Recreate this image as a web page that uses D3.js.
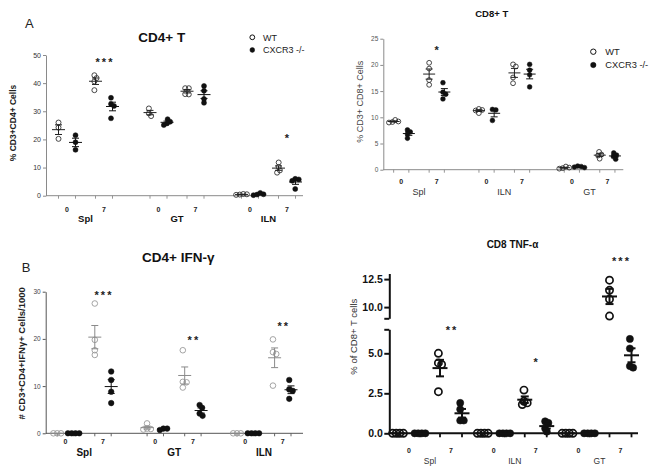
<!DOCTYPE html>
<html><head><meta charset="utf-8">
<script src="https://cdn.jsdelivr.net/npm/d3@7"></script>
<style>
body{margin:0;background:#fff}
svg{display:block}
</style></head>
<body><svg id="chart" width="654" height="476"></svg>
<script>
// ---------------- data ----------------
const genotypes = ["WT", "CXCR3 -/-"];
const days = ["0", "7"];

// group order in each series: [tissue0 day0, tissue0 day7, tissue1 day0, tissue1 day7, tissue2 day0, tissue2 day7]
const tissuesCD4 = ["Spl", "GT", "ILN"];
const cd4T_WT = [[26, 24.2, 20.2], [42.8, 41.8, 40.6, 37.5], [31, 29.3, 28.3], [38.2, 38.2, 36, 36.1], [0.5, 0.3, 0.6, 0.4], [11.8, 10.2, 9.0, 8.2]];
const cd4T_KO = [[21.5, 19, 16.3], [34.8, 32.6, 31.9, 27.5], [27.2, 26.3, 25.7, 25.1], [39, 37.3, 34.4, 33], [1.0, 0.5, 0.2, 0.4], [5.8, 6.0, 5.3, 2.4]];
const cd4T_ticks = [0, 10, 20, 30, 40, 50];
const cd4T_stars = [["Spl", "7", "***", 48.3], ["ILN", "7", "*", 21.3]];

const tissuesCD8 = ["Spl", "ILN", "GT"];
const cd8T_WT = [[9.5, 9.1, 9.0, 9.2], [20.4, 19.3, 17.1, 16.2], [11.6, 11.4, 11.3, 10.8], [20.1, 19.7, 17.6, 16.5], [0.6, 0.4, 0.2, 0.3], [3.4, 2.9, 2.7, 2.1]];
const cd8T_KO = [[7.6, 7.2, 6.0, 6.8], [16.6, 14.8, 14.4, 13.5], [11.5, 11.4, 9.4], [20.1, 19, 18.1, 15.8], [0.7, 0.5, 0.4, 0.6], [3.2, 2.8, 2.5, 2.0]];
const cd8T_ticks = [0, 5, 10, 15, 20, 25];
const cd8T_stars = [["Spl", "7", "*", 23.3]];

const tissuesIFN = ["Spl", "GT", "ILN"];
const ifn_WT = [[0, 0, 0], [27.5, 19.8, 17.6, 16.6], [2.1, 1.0, 0.8, 0.9], [17.6, 10.9, 10.8, 9.7], [0, 0, 0], [19.9, 17.2, 16.8, 10.1]];
const ifn_KO = [[0, 0, 0, 0], [13.1, 11.3, 8.8, 6.4], [1.0, 0.7, 1.0], [6.0, 5.4, 4.2, 3.7], [0, 0, 0, 0], [11.3, 9.3, 9.0, 7.3]];
const ifn_ticks = [0, 10, 20, 30];
const ifn_stars = [["Spl", "7", "***", 29.8], ["GT", "7", "**", 20.3], ["ILN", "7", "**", 23.3]];

const tissuesTNF = ["Spl", "ILN", "GT"];
const tnf_WT = [[0, 0, 0, 0], [5.0, 4.4, 4.3, 2.6], [0, 0, 0, 0], [2.7, 2.0, 1.9, 1.8], [0, 0, 0, 0], [12.4, 11.5, 10.7, 9.2]];
const tnf_KO = [[0, 0, 0, 0], [1.9, 1.5, 0.8, 0.8], [0, 0, 0, 0], [0.75, 0.65, 0.3, 0.1], [0, 0, 0, 0], [5.9, 5.3, 4.2, 4.1]];
const tnf_ticksLow = [0, 2.5, 5, 6.5];
const tnf_ticksHigh = [9, 10, 12.5];
const tnf_stars = [["Spl", "7", "**", 6.6], ["ILN", "7", "*", 4.6], ["GT", "7", "***", 14.3]];

// ---------------- drawing ----------------
const FONT = '"Liberation Sans", Arial, Helvetica, sans-serif';
const svg = d3.select("#chart").attr("font-family", FONT);

function swarm(vals, yFn, dist) {
  const pts = vals.map(v => ({v, y: yFn(v), x: 0}));
  const order = pts.slice().sort((a, b) => a.y - b.y);
  const placed = [];
  order.forEach(p => {
    const iv = placed.filter(q => Math.abs(q.y - p.y) < dist).map(q => {
      const w = Math.sqrt(dist * dist - (q.y - p.y) ** 2);
      return [q.x - w, q.x + w];
    });
    const c = [0];
    iv.forEach(([a, b]) => c.push(a, b));
    c.sort((a, b) => Math.abs(a) - Math.abs(b) || b - a);
    p.x = c.find(x => iv.every(([a, b]) => x <= a + 1e-6 || x >= b - 1e-6));
    placed.push(p);
  });
  const sh = (d3.min(pts, d => d.x) + d3.max(pts, d => d.x)) / 2;
  pts.forEach(p => p.x -= sh);
  return pts;
}

function drawPanel(p) {
  const g = svg.append("g");
  const xT = d3.scalePoint().domain(p.tissues).range(p.tissueRange);
  const xD = d3.scalePoint().domain(days).range([-p.dayHalf, p.dayHalf]);
  const xG = d3.scalePoint().domain(genotypes).range([-p.genoHalf, p.genoHalf]);
  const groups = [];
  p.tissues.forEach((t, ti) => days.forEach((d, di) => genotypes.forEach((gt, gi) => {
    const vals = (gi === 0 ? p.wt : p.ko)[ti * 2 + di];
    groups.push({t, d, gi, vals, cx: xT(t) + xD(d) + xG(gt)});
  })));

  // y axes
  p.yAxes.forEach(ax => {
    const a = g.append("g").attr("transform", `translate(${p.x0},0)`)
      .call(d3.axisLeft(ax.scale).tickValues(ax.ticks).tickSize(p.yTickLen).tickSizeOuter(0)
        .tickPadding(p.yTickPad).tickFormat(v => ax.labels.includes(v) ? p.yFmt(v) : ""));
    a.attr("font-family", FONT).attr("font-size", p.yTickFont);
    a.select(".domain").attr("stroke", p.axisColor).attr("stroke-width", p.axisW);
    a.selectAll(".tick line").attr("stroke", p.axisColor).attr("stroke-width", p.axisW);
    a.selectAll(".tick text").attr("fill", p.yTickColor).attr("font-weight", p.yTickWeight);
  });

  // x axis
  const y0 = p.yAxes[0].scale(0);
  g.append("line").attr("x1", p.x0).attr("x2", p.x1).attr("y1", y0).attr("y2", y0)
    .attr("stroke", p.axisColor).attr("stroke-width", p.axisW);
  g.selectAll(".xt").data(groups).join("line")
    .attr("x1", d => d.cx).attr("x2", d => d.cx).attr("y1", y0).attr("y2", y0 + p.xTickLen)
    .attr("stroke", p.axisColor).attr("stroke-width", p.axisW * 0.9);
  const dayLabs = p.tissues.flatMap(t => days.map(d => ({t, d})));
  g.selectAll(".dl").data(dayLabs).join("text")
    .attr("x", d => xT(d.t) + xD(d.d)).attr("y", p.dayLabelY)
    .attr("text-anchor", "middle").attr("font-size", 7).attr("font-weight", "bold")
    .attr("fill", p.dayColor).text(d => d.d);
  g.selectAll(".tl").data(p.tissues).join("text")
    .attr("x", d => xT(d)).attr("y", p.tissueLabelY)
    .attr("text-anchor", "middle").attr("font-size", p.tissueFont).attr("font-weight", p.tissueWeight)
    .attr("fill", p.tissueColor).text(d => d);

  // points
  groups.forEach(gr => {
    const pts = swarm(gr.vals, p.yFn, p.dodge);
    g.selectAll(null).data(pts).join("circle")
      .attr("cx", d => gr.cx + d.x).attr("cy", d => d.y).attr("r", p.r)
      .attr("fill", gr.gi === 0 ? "#fff" : p.koColor)
      .attr("fill-opacity", gr.gi === 0 ? 0 : 1)
      .attr("stroke", gr.gi === 0 ? p.wtColor : p.koColor)
      .attr("stroke-width", gr.gi === 0 ? p.wtStroke : 0.5);
  });
  // mean +- SEM
  groups.forEach(gr => {
    const m = d3.mean(gr.vals), s = d3.deviation(gr.vals) / Math.sqrt(gr.vals.length);
    const col = gr.gi === 0 ? p.wtMeanColor : p.koColor;
    const yS = p.yFn;
    const lg = g.append("g").attr("stroke", col).attr("stroke-width", p.meanW);
    lg.append("line").attr("x1", gr.cx - p.meanHalf).attr("x2", gr.cx + p.meanHalf)
      .attr("y1", yS(m)).attr("y2", yS(m));
    if (s > 0) {
      lg.append("line").attr("x1", gr.cx).attr("x2", gr.cx).attr("y1", yS(m - s)).attr("y2", yS(m + s));
      [m - s, m + s].forEach(v => lg.append("line").attr("x1", gr.cx - p.capHalf).attr("x2", gr.cx + p.capHalf)
        .attr("y1", yS(v)).attr("y2", yS(v)));
    }
  });
  // significance stars
  g.selectAll(".st").data(p.stars).join("text")
    .attr("x", d => xT(d[0]) + xD(d[1]) + p.starSpacing / 2).attr("y", d => p.yFn(d[3]) + p.starSize * 0.57)
    .attr("text-anchor", "middle").attr("font-size", p.starSize).attr("font-weight", "bold")
    .attr("letter-spacing", p.starSpacing).attr("fill", "#222").text(d => d[2]);

  // title
  g.append("text").attr("x", p.title[1]).attr("y", p.title[2]).attr("text-anchor", "middle")
    .attr("font-size", p.title[3]).attr("font-weight", "bold").attr("fill", "#111").text(p.title[0]);
  // y label
  g.append("text").attr("transform", `translate(${p.ylab[1]},${p.ylab[2]}) rotate(-90)`)
    .attr("text-anchor", "middle").attr("dy", "0.35em").attr("font-size", p.ylab[3])
    .attr("font-weight", p.ylab[4]).attr("fill", p.ylab[5]).text(p.ylab[0]);
  return g;
}

function legend(x, y, gap, tx, fs, r) {
  const lg = svg.append("g");
  genotypes.forEach((gt, i) => {
    lg.append("circle").attr("cx", x).attr("cy", y + i * gap).attr("r", r)
      .attr("fill", i === 0 ? "none" : "#111").attr("stroke", "#111").attr("stroke-width", i === 0 ? 1 : 0.5);
    lg.append("text").attr("x", tx).attr("y", y + i * gap + fs * 0.36).attr("font-size", fs)
      .attr("fill", "#222").text(gt);
  });
}

// Panel A: CD4+ T
const yA = d3.scaleLinear().domain([0, 50]).range([195.7, 55]);
drawPanel({
  tissues: tissuesCD4, wt: cd4T_WT, ko: cd4T_KO, tissueRange: [85.5, 268.5], dayHalf: 18.5, genoHalf: 8.5,
  x0: 46, x1: 303, yFn: yA, yAxes: [{scale: yA, ticks: cd4T_ticks, labels: cd4T_ticks}],
  yFmt: d3.format("d"), yTickLen: 3, yTickPad: 2, yTickFont: 7, yTickColor: "#333", yTickWeight: "normal",
  axisColor: "#8a8a8a", axisW: 1, xTickLen: 3, dayLabelY: 211.5, dayColor: "#222",
  tissueLabelY: 222, tissueFont: 9.5, tissueWeight: "bold", tissueColor: "#111",
  r: 2.5, dodge: 3.6, wtColor: "#333", wtStroke: 0.9, koColor: "#111", wtMeanColor: "#222",
  meanW: 1, meanHalf: 6.5, capHalf: 3.5,
  stars: cd4T_stars, starSize: 11, starSpacing: 2,
  title: ["CD4+ T", 161.7, 41.7, 13.5],
  ylab: ["% CD3+CD4+ Cells", 13.5, 123, 8.5, "bold", "#222"]
});
svg.append("text").attr("x", 25).attr("y", 28).attr("font-size", 13).attr("fill", "#222").text("A");
legend(252.3, 37.3, 12.7, 263, 9, 2.4);

// Panel: CD8+ T
const yC = d3.scaleLinear().domain([0, 25]).range([169.7, 38.7]);
drawPanel({
  tissues: tissuesCD8, wt: cd8T_WT, ko: cd8T_KO, tissueRange: [419, 589.6], dayHalf: 17.75, genoHalf: 7.6,
  x0: 383.3, x1: 623.3, yFn: yC, yAxes: [{scale: yC, ticks: cd8T_ticks, labels: cd8T_ticks}],
  yFmt: d3.format("d"), yTickLen: 3, yTickPad: 2, yTickFont: 6.5, yTickColor: "#555", yTickWeight: "normal",
  axisColor: "#8a8a8a", axisW: 1, xTickLen: 3, dayLabelY: 184.2, dayColor: "#222",
  tissueLabelY: 195, tissueFont: 9, tissueWeight: "normal", tissueColor: "#333",
  r: 2.4, dodge: 3.5, wtColor: "#333", wtStroke: 0.9, koColor: "#111", wtMeanColor: "#222",
  meanW: 1, meanHalf: 6, capHalf: 3.5,
  stars: cd8T_stars, starSize: 11, starSpacing: 0,
  title: ["CD8+ T", 491.7, 16.7, 9.5],
  ylab: ["% CD3+ CD8+ Cells", 360, 101.7, 9, "normal", "#444"]
});
legend(593.3, 51.7, 13.3, 605.3, 9.3, 2.7);

// Panel B: CD4+ IFN-γ
const yB = d3.scaleLinear().domain([0, 30]).range([433.3, 291.7]);
drawPanel({
  tissues: tissuesIFN, wt: ifn_WT, ko: ifn_KO, tissueRange: [84.2, 264], dayHalf: 18.8, genoHalf: 8.2,
  x0: 45.7, x1: 303, yFn: yB, yAxes: [{scale: yB, ticks: ifn_ticks, labels: ifn_ticks}],
  yFmt: d3.format("d"), yTickLen: 3, yTickPad: 2, yTickFont: 6.5, yTickColor: "#444", yTickWeight: "normal",
  axisColor: "#555", axisW: 1, xTickLen: 3, dayLabelY: 444, dayColor: "#222",
  tissueLabelY: 455.5, tissueFont: 10, tissueWeight: "bold", tissueColor: "#111",
  r: 2.8, dodge: 3.8, wtColor: "#9a9a9a", wtStroke: 0.9, koColor: "#111", wtMeanColor: "#8a8a8a",
  meanW: 1, meanHalf: 6.5, capHalf: 3.5,
  stars: ifn_stars, starSize: 11, starSpacing: 2,
  title: ["CD4+ IFN-γ", 178.3, 261.7, 13.5],
  ylab: ["# CD3+CD4+IFNγ+ Cells/1000", 21.7, 353.3, 9.5, "bold", "#222"]
});
svg.append("text").attr("x", 21.7).attr("y", 271.7).attr("font-size", 13).attr("fill", "#222").text("B");

// Panel: CD8 TNF-α (broken y axis)
const yLow = d3.scaleLinear().domain([0, 6.5]).range([433.3, 329.3]);
const yHigh = d3.scaleLinear().domain([9, 13]).range([318.3, 273.5]);
const yTNF = v => v > 7.5 ? yHigh(v) : yLow(v);
drawPanel({
  tissues: tissuesTNF, wt: tnf_WT, ko: tnf_KO, tissueRange: [430, 599.5], dayHalf: 21, genoHalf: 11,
  x0: 389.3, x1: 638, yFn: yTNF,
  yAxes: [{scale: yLow, ticks: tnf_ticksLow, labels: [0, 2.5, 5]},
          {scale: yHigh, ticks: tnf_ticksHigh, labels: [10, 12.5]}],
  yFmt: d3.format(".1f"), yTickLen: 5, yTickPad: 1.5, yTickFont: 10.5, yTickColor: "#111", yTickWeight: "bold",
  axisColor: "#111", axisW: 2, xTickLen: 4, dayLabelY: 452.5, dayColor: "#222",
  tissueLabelY: 464, tissueFont: 8.5, tissueWeight: "normal", tissueColor: "#333",
  r: 3.6, dodge: 3.6, wtColor: "#111", wtStroke: 1.7, koColor: "#111", wtMeanColor: "#111",
  meanW: 2, meanHalf: 7.5, capHalf: 4,
  stars: tnf_stars, starSize: 11, starSpacing: 2,
  title: ["CD8 TNF-α", 512.5, 248.3, 10],
  ylab: ["% of CD8+ T cells", 354, 336.7, 9.5, "normal", "#333"]
});
</script>
</body></html>
